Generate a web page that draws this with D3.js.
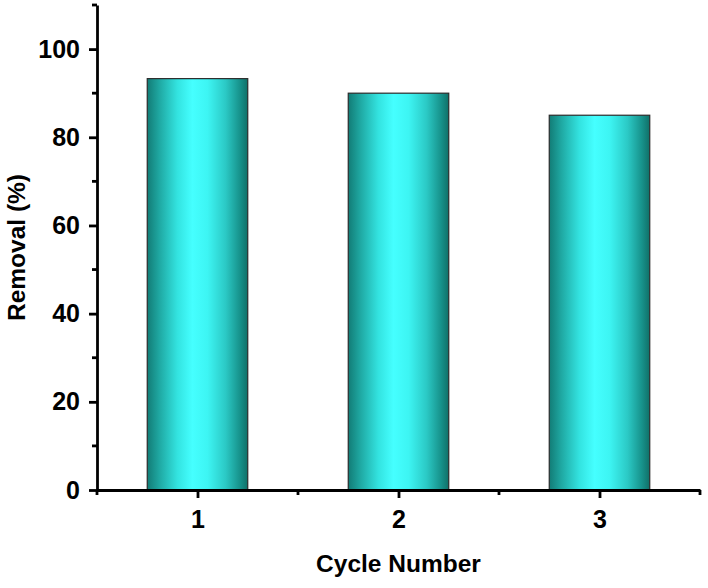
<!DOCTYPE html>
<html>
<head>
<meta charset="utf-8">
<script src="https://cdn.jsdelivr.net/npm/d3@7"></script>
<style>
  body { margin: 0; background: #fff; }
  svg text { font-family: "Liberation Sans", Arial, sans-serif; font-weight: bold; fill: #000; }
</style>
</head>
<body>
<svg width="708" height="588"></svg>
<script>
// data
const cycles = [1, 2, 3];
const removal = [93.3, 90.0, 85.0];
const yTicks = [0, 20, 40, 60, 80, 100];

const svg = d3.select("svg");
const margin = { left: 97, right: 8, top: 5, bottom: 98 };
const width = +svg.attr("width");
const height = +svg.attr("height");

const x = d3.scaleLinear().domain([0.5, 3.5]).range([margin.left, width - margin.right]);
const y = d3.scaleLinear().domain([0, 110]).range([height - margin.bottom, margin.top]);

// bar gradient
const grad = svg.append("defs").append("linearGradient")
  .attr("id", "barGrad").attr("x1", "0%").attr("x2", "100%").attr("y1", "0%").attr("y2", "0%");
[
  [0, "#127c76"], [0.12, "#1fa8a2"], [0.3, "#33e3e0"], [0.45, "#45ffff"],
  [0.6, "#3df5f3"], [0.78, "#2bc9c5"], [0.92, "#17938c"], [1, "#107068"]
].forEach(([o, c]) => grad.append("stop").attr("offset", o).attr("stop-color", c));

// bars
const barW = x(1.25) - x(0.75);
svg.selectAll("rect.bar")
  .data(cycles)
  .enter().append("rect")
    .attr("class", "bar")
    .attr("x", (d) => x(d) - barW / 2)
    .attr("y", (d, i) => y(removal[i]))
    .attr("width", barW)
    .attr("height", (d, i) => y(0) - y(removal[i]))
    .attr("fill", "url(#barGrad)")
    .attr("stroke", "#2b2b2b")
    .attr("stroke-width", 1.2);

// y axis
const yAxis = svg.append("g").attr("transform", `translate(${margin.left},0)`);
yAxis.call(d3.axisLeft(y).tickValues(yTicks).tickSize(8).tickPadding(9).tickSizeOuter(0));
yAxis.append("g").selectAll("line")
  .data(d3.range(10, 111, 20))
  .enter().append("line")
    .attr("x1", -5).attr("x2", 0)
    .attr("y1", (d) => y(d)).attr("y2", (d) => y(d));

// x axis
const xAxis = svg.append("g").attr("transform", `translate(0,${y(0)})`);
xAxis.call(d3.axisBottom(x).tickValues(cycles).tickFormat(d3.format("d")).tickSize(8).tickPadding(12).tickSizeOuter(0));
xAxis.append("g").selectAll("line")
  .data([0.5, 1.5, 2.5, 3.5])
  .enter().append("line")
    .attr("x1", (d) => x(d)).attr("x2", (d) => x(d))
    .attr("y1", 0).attr("y2", 5);

svg.selectAll(".domain, .tick line, g g line")
  .attr("stroke", "#000").attr("stroke-width", 2.8);
svg.selectAll(".tick text").attr("font-size", 25);

// axis titles
svg.append("text")
  .attr("x", (x(0.5) + x(3.5)) / 2)
  .attr("y", 572)
  .attr("text-anchor", "middle")
  .attr("font-size", 24.5)
  .text("Cycle Number");

svg.append("text")
  .attr("transform", `translate(25,${y(55)}) rotate(-90)`)
  .attr("text-anchor", "middle")
  .attr("font-size", 24.5)
  .text("Removal (%)");
</script>
</body>
</html>
